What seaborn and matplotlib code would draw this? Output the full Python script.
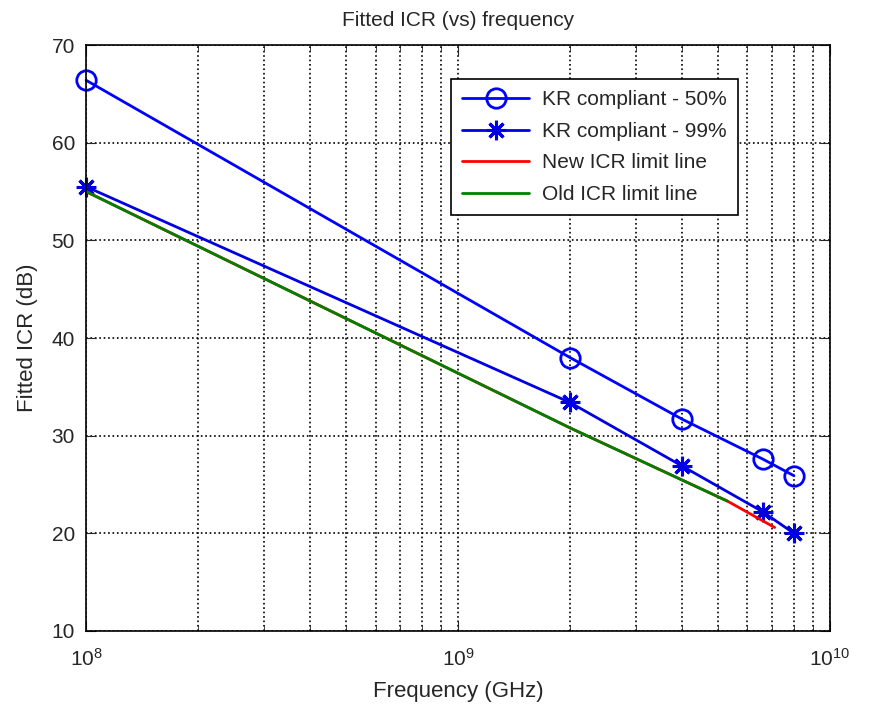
import matplotlib
matplotlib.use("Agg")
import matplotlib.pyplot as plt
import pandas as pd
import seaborn as sns
from matplotlib.ticker import LogLocator, NullFormatter

FREQ_KR = [1e8, 2e9, 4e9, 6.6e9, 8e9]
KR_50 = [66.4, 38.0, 31.7, 27.6, 25.9]
KR_99 = [55.5, 33.4, 26.9, 22.2, 20.0]
FREQ_NEW = [1e8, 2e9, 5.3e9, 7.1e9]
NEW_LIMIT = [55.0, 30.8, 23.3, 20.6]
FREQ_OLD = [1e8, 2e9, 5.3e9]
OLD_LIMIT = [55.0, 30.8, 23.3]

sns.set_style("ticks")
plt.rcParams["font.family"] = ["Liberation Sans", "DejaVu Sans"]

fig = plt.figure(figsize=(8.7, 7.05), dpi=100)
ax = fig.add_axes([0.099, 0.105, 0.855, 0.831])
ax.set_xscale("log")

series = [
    ("KR compliant - 50%", FREQ_KR, KR_50, "#0000ff",
     dict(marker="o", markersize=14, markerfacecolor="none", markeredgewidth=2)),
    ("KR compliant - 99%", FREQ_KR, KR_99, "#0000e0",
     dict(marker=(8, 2, 0), markersize=14, markeredgewidth=2.2)),
    ("New ICR limit line", FREQ_NEW, NEW_LIMIT, "#ff0000", {}),
    ("Old ICR limit line", FREQ_OLD, OLD_LIMIT, "#008000", {}),
]
for label, xs, ys, color, extra in series:
    df = pd.DataFrame({"freq": xs, "icr": ys})
    if extra:
        extra["markeredgecolor"] = color
    sns.lineplot(data=df, x="freq", y="icr", ax=ax, color=color, linewidth=2,
                 label=label, sort=False, clip_on=False, **extra)

ax.set_xlim(1e8, 1e10)
ax.set_ylim(10, 70)
ax.set_yticks(range(10, 71, 10))
ax.xaxis.set_major_locator(LogLocator(base=10, numticks=5))
ax.xaxis.set_minor_locator(LogLocator(base=10, subs=range(2, 10), numticks=20))
ax.xaxis.set_minor_formatter(NullFormatter())
ax.grid(True, which="major", color="black", linestyle=":", linewidth=1.2)
ax.grid(True, which="minor", axis="x", color="black", linestyle=":", linewidth=1.2)
ax.tick_params(which="both", direction="in", top=True, right=True, labelsize=15)
ax.tick_params(which="major", length=7)
ax.tick_params(which="minor", length=4)
ax.tick_params(axis="x", which="major", pad=12)
ax.tick_params(axis="y", which="major", pad=8)
for s in ax.spines.values():
    s.set_linewidth(1.2)
    s.set_color("black")

ax.set_xlabel("Frequency (GHz)", fontsize=16, labelpad=8)
ax.set_ylabel("Fitted ICR (dB)", fontsize=16, labelpad=10)
ax.set_title("Fitted ICR (vs) frequency", fontsize=15, pad=14)

leg = ax.legend(loc="upper right", bbox_to_anchor=(0.89, 0.96), fontsize=15, frameon=True,
                fancybox=False, edgecolor="black", framealpha=1, handlelength=3.2, borderpad=0.55,
                labelspacing=0.6, handletextpad=0.6)
leg.get_frame().set_linewidth(1.2)

fig.savefig("out.png", dpi=100)
